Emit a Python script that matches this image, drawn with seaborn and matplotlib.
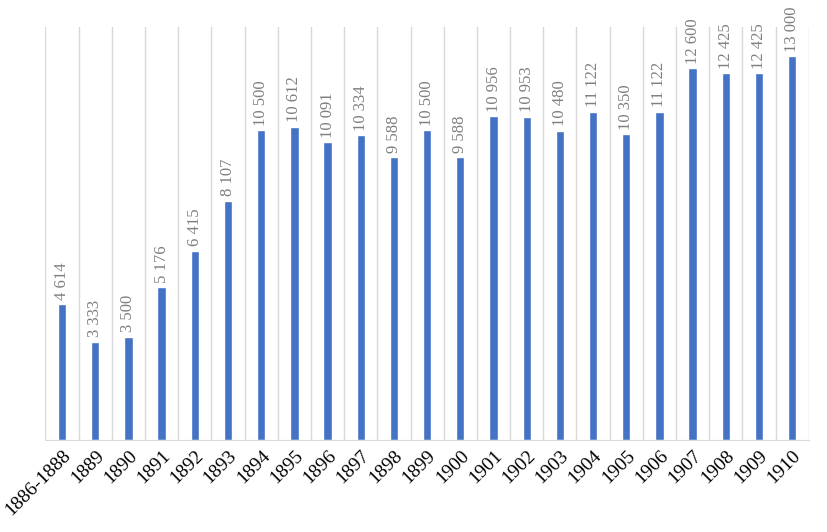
import numpy as np
import pandas as pd
import matplotlib
matplotlib.use("Agg")
import matplotlib.pyplot as plt
import seaborn as sns

# data
years = ["1886-1888", "1889", "1890", "1891", "1892", "1893", "1894", "1895",
         "1896", "1897", "1898", "1899", "1900", "1901", "1902", "1903",
         "1904", "1905", "1906", "1907", "1908", "1909", "1910"]
values = [4614, 3333, 3500, 5176, 6415, 8107, 10500, 10612,
          10091, 10334, 9588, 10500, 9588, 10956, 10953, 10480,
          11122, 10350, 11122, 12600, 12425, 12425, 13000]

df = pd.DataFrame({"year": years, "value": values})

sns.set_style("white")
plt.rcParams['font.family'] = ['Liberation Serif', 'DejaVu Serif']

fig, ax = plt.subplots(figsize=(8.27, 5.32), dpi=100)
fig.subplots_adjust(left=0.055, right=0.978, top=0.95, bottom=0.173)

sns.barplot(data=df, x="year", y="value", color="#4472C4", width=0.25,
            saturation=1, ax=ax)

# value labels with space as thousands separator
labels = [f"{v:,}".replace(",", " ") for v in values]
ax.bar_label(ax.containers[0], labels=labels, rotation=90, padding=3,
             color="#7F7F7F", fontsize=12)

ax.set_xlim(-0.5, len(years) - 0.5)
ax.set_ylim(0, 14000)
ax.set_xlabel("")
ax.set_ylabel("")
ax.set_yticks([])

# vertical gridlines between categories
ax.set_xticks(np.arange(-0.5, len(years), 1), minor=True)
ax.grid(which="minor", axis="x", color="#D9D9D9", linewidth=1)
ax.tick_params(axis="x", which="both", length=0, pad=5)

plt.setp(ax.get_xticklabels(), rotation=45, ha="right",
         rotation_mode="anchor", fontsize=14, color="black")

for side in ["top", "right", "left"]:
    ax.spines[side].set_visible(False)
ax.spines["bottom"].set_color("#D9D9D9")

plt.savefig("out.png", dpi=100)
